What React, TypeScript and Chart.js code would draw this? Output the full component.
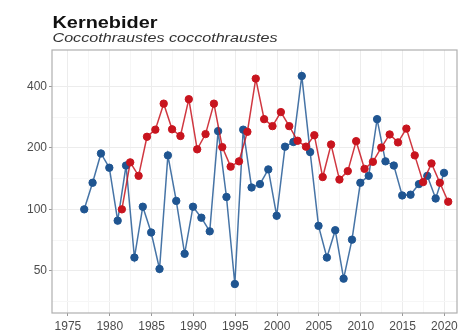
import React, { useEffect, useRef } from "react";
import { Chart, registerables } from "chart.js";

Chart.register(...registerables);

const TITLE = "Kernebider";
const SUBTITLE = "Coccothraustes coccothraustes";

const blueYears = [
  1977, 1978, 1979, 1980, 1981, 1982, 1983, 1984, 1985, 1986, 1987, 1988, 1989, 1990, 1991,
  1992, 1993, 1994, 1995, 1996, 1997, 1998, 1999, 2000, 2001, 2002, 2003, 2004, 2005, 2006,
  2007, 2008, 2009, 2010, 2011, 2012, 2013, 2014, 2015, 2016, 2017, 2018, 2019, 2020,
];
const blueValues = [
  100, 135, 188, 160, 88, 164, 58, 103, 77, 51, 184, 110, 60.5, 103, 91,
  78, 242, 115, 43, 246, 128, 133, 157, 93, 203, 214, 451, 191, 83, 58,
  79, 45.7, 71, 135, 146, 277, 172, 164, 117, 118, 133, 146, 113, 151,
];

const redYears = [
  1981, 1982, 1983, 1984, 1985, 1986, 1987, 1988, 1989, 1990, 1991, 1992, 1993, 1994,
  1995, 1996, 1997, 1998, 1999, 2000, 2001, 2002, 2003, 2004, 2005, 2006, 2007, 2008,
  2009, 2010, 2011, 2012, 2013, 2014, 2015, 2016, 2017, 2018, 2019, 2020,
];
const redValues = [
  100, 170, 146, 227, 246, 330, 247, 229, 347, 197, 234, 330, 202, 162,
  172, 240, 438, 277, 256, 300, 256, 217, 203, 231, 144, 208, 140, 154,
  216, 158, 171, 201, 233, 213, 249, 184, 136, 168, 135, 109,
];

const xTickLabels = [1975, 1980, 1985, 1990, 1995, 2000, 2005, 2010, 2015, 2020];
const xMinorTicks = [1977.5, 1982.5, 1987.5, 1992.5, 1997.5, 2002.5, 2007.5, 2012.5, 2017.5];
const yTickLabels = [50, 100, 200, 400];
const yMinorTicks = [35.36, 70.71, 141.42, 282.84];

const BLUE = "#1f5591";
const RED = "#c8141e";
const BLUE_OFFSET = -0.05;
const RED_OFFSET = 0.45;

const framePlugin = {
  id: "frameAndTitles",
  beforeDatasetsDraw(chart: any) {
    const { ctx, chartArea } = chart;
    const { left, top, right, bottom } = chartArea;
    ctx.save();
    ctx.strokeStyle = "#b0b0b0";
    ctx.lineWidth = 1.2;
    ctx.strokeRect(left, top, right - left, bottom - top);
    ctx.restore();
  },
  afterDraw(chart: any) {
    const { ctx, chartArea } = chart;
    ctx.save();
    ctx.textAlign = "left";
    ctx.textBaseline = "alphabetic";
    ctx.fillStyle = "#111111";
    ctx.font = "bold 17px 'Liberation Sans', Arial, sans-serif";
    const tw = ctx.measureText(TITLE).width;
    ctx.save();
    ctx.translate(chartArea.left + 0.5, 28);
    ctx.scale(105 / tw, 1);
    ctx.fillText(TITLE, 0, 0);
    ctx.restore();
    ctx.fillStyle = "#333333";
    ctx.font = "italic 12.5px 'Liberation Sans', Arial, sans-serif";
    const sw = ctx.measureText(SUBTITLE).width;
    ctx.save();
    ctx.translate(chartArea.left + 0.5, 42);
    ctx.scale(225 / sw, 1);
    ctx.fillText(SUBTITLE, 0, 0);
    ctx.restore();
    ctx.restore();
  },
};

export default function App() {
  const ref = useRef<HTMLCanvasElement | null>(null);

  useEffect(() => {
    if (!ref.current) return;
    const blueData = blueYears.map((y, i) => ({ x: y + BLUE_OFFSET, y: blueValues[i] }));
    const redData = redYears.map((y, i) => ({ x: y + RED_OFFSET, y: redValues[i] }));
    const chart = new Chart(ref.current, {
      type: "line",
      data: {
        datasets: [
          {
            data: redData,
            borderColor: "rgba(200,20,30,0.85)",
            backgroundColor: RED,
            pointBackgroundColor: RED,
            pointBorderColor: RED,
            pointRadius: 3.7,
            pointBorderWidth: 1,
            borderWidth: 1.5,
            tension: 0,
          },
          {
            data: blueData,
            borderColor: "rgba(38,92,150,0.85)",
            backgroundColor: BLUE,
            pointBackgroundColor: BLUE,
            pointBorderColor: BLUE,
            pointRadius: 3.7,
            pointBorderWidth: 1,
            borderWidth: 1.5,
            tension: 0,
          },
        ],
      },
      options: {
        responsive: false,
        animation: false,
        layout: { padding: { top: 50, right: 4, bottom: 0, left: 0 } },
        plugins: { legend: { display: false }, tooltip: { enabled: false }, title: { display: false } },
        scales: {
          x: {
            type: "linear",
            min: 1973.1,
            max: 2021.5,
            afterBuildTicks: (s: any) => {
              s.ticks = [...xTickLabels, ...xMinorTicks].sort((a, b) => a - b).map((v) => ({ value: v }));
            },
            afterFit: (s: any) => {
              s.height = 20;
            },
            ticks: {
              autoSkip: false,
              maxRotation: 0,
              padding: 3,
              color: "#4d4d4d",
              font: { family: "'Liberation Sans', Arial, sans-serif", size: 12 },
              callback: (v: any) => (xTickLabels.includes(Number(v)) ? String(v) : ""),
            },
            grid: {
              color: (c: any) => (c.tick && xTickLabels.includes(c.tick.value) ? "#ececec" : "#f6f6f6"),
              tickColor: (c: any) => (c.tick && xTickLabels.includes(c.tick.value) ? "#999999" : "rgba(0,0,0,0)"),
              tickLength: 3,
              drawOnChartArea: true,
            },
            border: { display: false },
          },
          y: {
            type: "logarithmic",
            min: 31,
            max: 605,
            afterBuildTicks: (s: any) => {
              s.ticks = [...yTickLabels, ...yMinorTicks].sort((a, b) => a - b).map((v) => ({ value: v }));
            },
            afterFit: (s: any) => {
              s.width = 52;
            },
            ticks: {
              autoSkip: false,
              padding: 2,
              color: "#4d4d4d",
              font: { family: "'Liberation Sans', Arial, sans-serif", size: 12 },
              callback: (v: any) => (yTickLabels.includes(Number(v)) ? String(v) : ""),
            },
            grid: {
              color: (c: any) => (c.tick && yTickLabels.includes(c.tick.value) ? "#ececec" : "#f6f6f6"),
              tickColor: (c: any) => (c.tick && yTickLabels.includes(c.tick.value) ? "#999999" : "rgba(0,0,0,0)"),
              tickLength: 3,
            },
            border: { display: false },
          },
        },
      },
      plugins: [framePlugin],
    } as any);
    return () => chart.destroy();
  }, []);

  return (
    <div style={{ position: "fixed", left: 0, top: 0, width: 462, height: 333, background: "#fff" }}>
      <canvas ref={ref} width={462} height={333} />
    </div>
  );
}
